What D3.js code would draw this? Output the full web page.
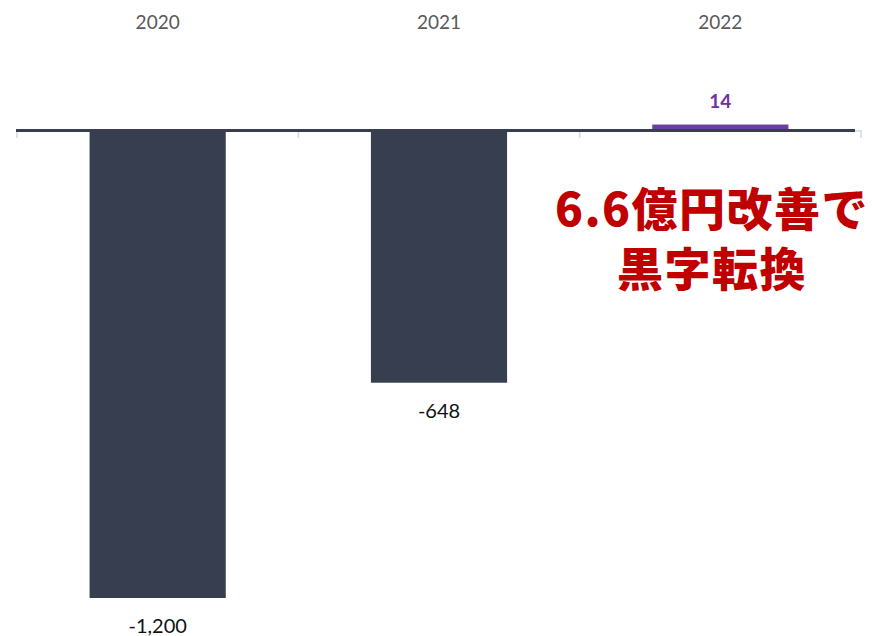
<!DOCTYPE html>
<html>
<head>
<meta charset="utf-8">
<script src="https://cdn.jsdelivr.net/npm/d3@7"></script>
<style>
  body { margin: 0; background: #fff; }
  svg { display: block; }
  .cat { font-family: Lato, "Open Sans", sans-serif; font-size: 19px; fill: #595959; }
  .val { font-family: Lato, "Open Sans", sans-serif; font-size: 20px; fill: #111; }
  .note { font-family: "Noto Sans CJK JP", sans-serif; font-weight: 900; font-size: 46px; letter-spacing: 1.5px; fill: #c00000; }
</style>
</head>
<body>
<svg width="872" height="636"></svg>
<script>
(function (d3) {
    'use strict';

    const years = ['2020', '2021', '2022'];
    const values = [-1200, -648, 14];
    const valueLabels = ['-1,200', '-648', '14'];
    const noteLines = ['6.6億円改善で', '黒字転換'];

    const svg = d3.select('svg');

    const x = d3.scaleBand()
        .domain(years)
        .range([17, 861])
        .paddingInner(0.516)
        .paddingOuter(0.258);

    const y = d3.scaleLinear()
        .domain([-1200, 0])
        .range([598, 130]);

    // light tick marks under the axis, one at each band boundary
    const bounds = d3.range(years.length + 1).map(i => 17 + i * x.step());
    svg.append('g').selectAll('line').data(bounds)
        .enter().append('line')
        .attr('x1', d => d).attr('x2', d => d)
        .attr('y1', 130).attr('y2', 138)
        .attr('stroke', '#d9d9d9')
        .attr('stroke-width', 1.5);
    svg.append('line')
        .attr('x1', 854).attr('x2', 861)
        .attr('y1', 131).attr('y2', 131)
        .attr('stroke', '#d9d9d9')
        .attr('stroke-width', 1.5);

    svg.append('g').selectAll('rect').data(values)
        .enter().append('rect')
        .attr('x', (d, i) => x(years[i]))
        .attr('width', x.bandwidth())
        .attr('y', d => Math.min(y(d), y(0)))
        .attr('height', d => Math.abs(y(d) - y(0)))
        .attr('fill', d => d < 0 ? '#363e50' : '#6b3fa0');

    // zero axis line
    svg.append('line')
        .attr('x1', 16).attr('x2', 855)
        .attr('y1', y(0) + 0.5).attr('y2', y(0) + 0.5)
        .attr('stroke', '#363e50')
        .attr('stroke-width', 3);

    svg.append('g').selectAll('text').data(years)
        .enter().append('text')
        .attr('class', 'cat')
        .attr('x', d => x(d) + x.bandwidth() / 2)
        .attr('y', 29)
        .attr('text-anchor', 'middle')
        .text(d => d);

    svg.append('g').selectAll('text').data(values)
        .enter().append('text')
        .attr('class', 'val')
        .attr('x', (d, i) => x(years[i]) + x.bandwidth() / 2)
        .attr('y', d => d < 0 ? y(d) + 35 : y(d) - 17)
        .attr('text-anchor', 'middle')
        .style('fill', d => d < 0 ? '#111' : '#7030a0')
        .style('font-weight', d => d < 0 ? 'normal' : 'bold')
        .style('font-size', d => d < 0 ? '20px' : '19px')
        .text((d, i) => valueLabels[i]);

    // callout: one text block, two lines
    svg.append('text')
        .attr('class', 'note')
        .attr('text-anchor', 'middle')
        .selectAll('tspan').data(noteLines)
        .enter().append('tspan')
        .attr('x', 712)
        .attr('y', (d, i) => 226 + i * 60)
        .text(d => d);

}(d3));
</script>
</body>
</html>
